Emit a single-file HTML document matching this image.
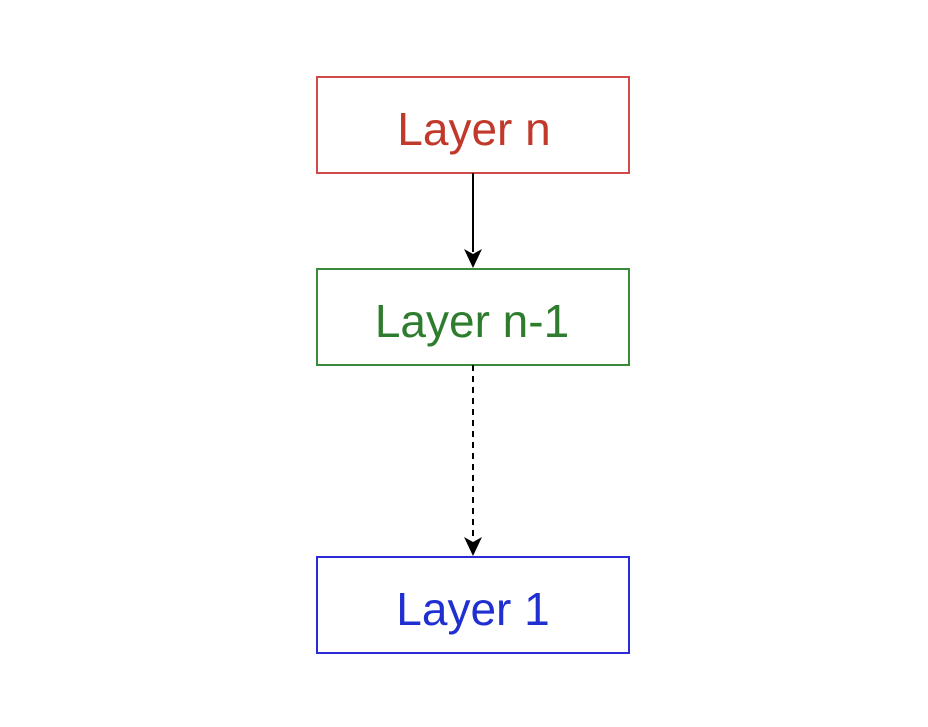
<!DOCTYPE html>
<html><head><style>html,body{margin:0;padding:0;background:#fff;}</style></head><body>
<svg width="928" height="722" xmlns="http://www.w3.org/2000/svg">
<rect x="0" y="0" width="928" height="722" fill="#fff"/>
<rect x="317" y="77" width="312" height="96" fill="#fff" stroke="#d04a4a" stroke-width="2"/>
<text x="474" y="145" text-anchor="middle" font-family="Liberation Sans, sans-serif" font-size="46" fill="#c0392b">Layer n</text>
<line x1="473" y1="173" x2="473" y2="252" stroke="#000" stroke-width="2"/>
<path d="M473,268 L464,249 L473,254 L482,249 Z" fill="#000"/>
<rect x="317" y="269" width="312" height="96" fill="#fff" stroke="#3a8a3a" stroke-width="2"/>
<text x="472" y="337" text-anchor="middle" font-family="Liberation Sans, sans-serif" font-size="46" fill="#2e7d2e">Layer n-1</text>
<line x1="473" y1="365" x2="473" y2="540" stroke="#000" stroke-width="2" stroke-dasharray="6,5"/>
<path d="M473,556 L464,537 L473,542 L482,537 Z" fill="#000"/>
<rect x="317" y="557" width="312" height="96" fill="#fff" stroke="#2a2ad8" stroke-width="2"/>
<text x="473" y="625" text-anchor="middle" font-family="Liberation Sans, sans-serif" font-size="46" fill="#1f2fd0">Layer 1</text>
</svg>
</body></html>
